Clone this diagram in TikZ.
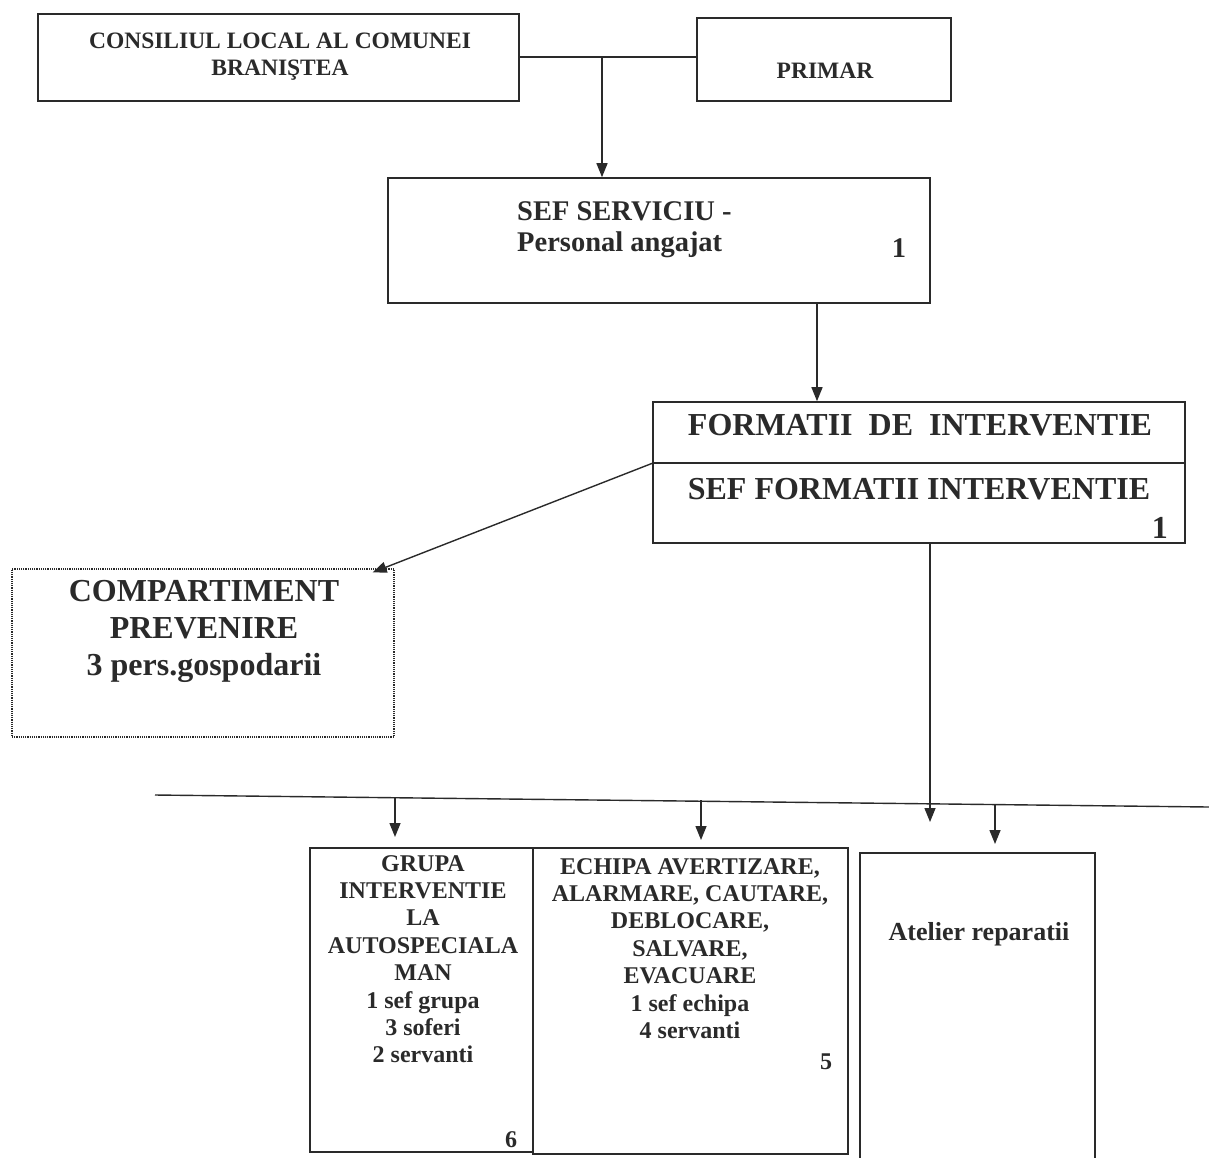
\documentclass[tikz,border=0pt]{standalone}
\usepackage{fontspec}
\setmainfont{Liberation Serif}
\usetikzlibrary{arrows.meta,calc}
\definecolor{ink}{HTML}{2A2A2A}
\begin{document}
\begin{tikzpicture}[x=1pt,y=-1pt,
  box/.style={draw=ink,line width=1.6pt,rectangle,inner sep=0pt},
  dotbox/.style={draw=ink,line width=1.2pt,densely dotted,rectangle,inner sep=0pt},
  conn/.style={draw=ink,line width=1.4pt},
  arr/.style={conn,-{Triangle[length=14pt,width=11pt]}},
  txt/.style={text=ink,inner sep=0pt,align=center,font=\bfseries},
  t20/.style={txt,font=\fontsize{23.5}{27}\selectfont\bfseries},
  t22/.style={txt,font=\fontsize{24}{27.4}\selectfont\bfseries},
  t26/.style={txt,font=\fontsize{28.5}{34}\selectfont\bfseries},
  t30/.style={txt,font=\fontsize{32}{37}\selectfont\bfseries}]
\useasboundingbox (0,0) rectangle (1209,1157);
% boxes
\node[box,minimum width=481pt,minimum height=87pt] (cons) at (278.5,57.5) {};
\node[box,minimum width=254pt,minimum height=83pt] (primar) at (824,59.5) {};
\node[box,minimum width=542pt,minimum height=125pt] (sef) at (659,240.5) {};
\node[box,minimum width=532pt,minimum height=141pt] (form) at (919,472.5) {};
\node[dotbox,minimum width=382pt,minimum height=168pt] (comp) at (203,653) {};
\node[box,minimum width=223pt,minimum height=304pt] (grupa) at (421.5,1000) {};
\node[box,minimum width=315pt,minimum height=306pt] (echipa) at (690.5,1001) {};
\coordinate (atl) at (860,853);
\coordinate (atr) at (1095,853);
\draw[box] (860,1160) -- (atl) -- (atr) -- (1095,1160);
\coordinate (fdivl) at (653,463);
\draw[conn] (fdivl) -- (form.east |- fdivl);
% texts
\node[t20] (tcons) at (280,57) {CONSILIUL LOCAL AL COMUNEI\\BRANI\c{S}TEA};
\node[t20] (tprimar) at (825,71) {PRIMAR};
\node[t26,anchor=west] (tsef1) at (517,211) {SEF SERVICIU -};
\node[t26,anchor=west] (tsef2) at (517,245) {Personal angajat};
\node[t26] (tsef3) at (899,248) {1};
\node[t30] (tform1) at (920,425) {FORMATII\ \ DE\ \ INTERVENTIE};
\node[t30] (tform2) at (919,489) {SEF FORMATII INTERVENTIE};
\node[t30,anchor=east] (tform3) at (1168,528) {1};
\node[t30] (tcomp) at (204,631) {COMPARTIMENT\\PREVENIRE\\3 pers.gospodarii};
\node[t22,anchor=north] (tgrupa) at (423,855) {GRUPA\\INTERVENTIE\\LA\\AUTOSPECIALA\\MAN\\1 sef grupa\\3 soferi\\2 servanti};
\node[t22] (tgr6) at (511,1140) {6};
\node[t22,anchor=north] (techipa) at (690,858) {ECHIPA AVERTIZARE,\\ALARMARE, CAUTARE,\\DEBLOCARE,\\SALVARE,\\EVACUARE\\1 sef echipa\\4 servanti};
\node[t22] (tech5) at (826,1062) {5};
\node[txt,font=\fontsize{26}{30}\selectfont\bfseries] (tatel) at (979,934) {Atelier reparatii};
% connectors
\draw[conn] (cons.east |- 0,57) -- (primar.west |- 0,57);
\coordinate (j1) at (602,57);
\draw[arr] (j1) -- (j1 |- sef.north);
\coordinate (s1) at (817,0);
\draw[arr] (sef.south -| s1) -- (form.north -| s1);
\draw[arr] (fdivl) -- ($(comp.north east)+(-22,4)$);
\coordinate (bus) at (930,822);
\draw[arr] (form.south -| bus) -- (bus);
\coordinate (hl) at (155,795);
\coordinate (hr) at (1209,807);
\draw[conn] (hl) -- (hr);
\coordinate (a1) at (395,797);
\coordinate (a2) at (701,800);
\coordinate (a3) at (995,804);
\draw[arr] (a1) -- (395,837);
\draw[arr] (a2) -- (701,840);
\draw[arr] (a3) -- (995,844);
\end{tikzpicture}
\end{document}
